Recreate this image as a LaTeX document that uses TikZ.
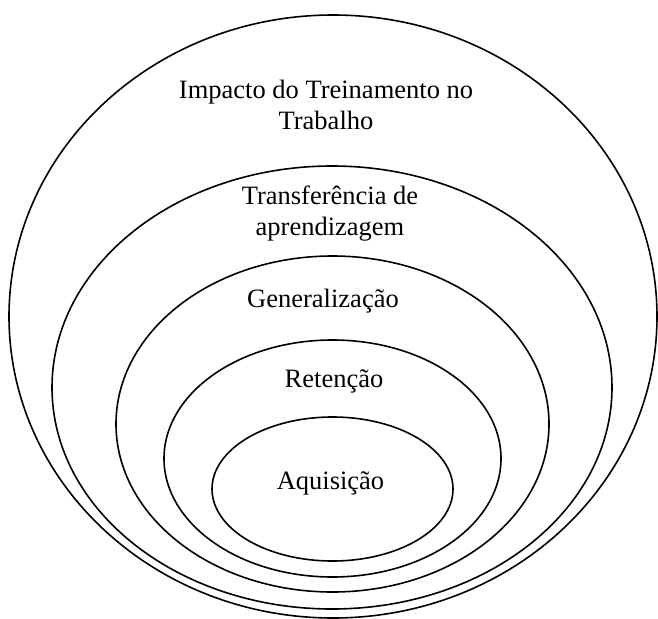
\documentclass[tikz,border=0pt]{standalone}
\usepackage{fontspec}
\setmainfont{Liberation Serif}
\usetikzlibrary{shapes.geometric}
\begin{document}
\begin{tikzpicture}[x=1pt,y=-1pt,
  ring/.style={draw=black, line width=1.6pt, ellipse, inner sep=0pt},
  lbl/.style={font=\fontsize{26.5}{31}\selectfont, align=center, inner sep=0pt}]
\useasboundingbox (0,0) rectangle (658,618);
\node[ring, minimum width=648pt, minimum height=603pt] (e1) at (333,316.5) {};
\node[ring, minimum width=560pt, minimum height=443pt] (e2) at (332,387.5) {};
\node[ring, minimum width=433pt, minimum height=336pt] (e3) at (332.5,424) {};
\node[ring, minimum width=337pt, minimum height=237pt] (e4) at (332.5,458.5) {};
\node[ring, minimum width=241pt, minimum height=144pt] (e5) at (332.5,489) {};
\node[lbl] (t1) at (326,104.5) {Impacto do Treinamento no\\Trabalho};
\node[lbl] (t2) at (330,213.7) {Transferência de\\aprendizagem};
\node[lbl, anchor=base] (t3) at (323,307) {Generalização};
\node[lbl, anchor=base] (t4) at (334,387) {Retenção};
\node[lbl, anchor=base] (t5) at (330.5,489) {Aquisição};
\end{tikzpicture}
\end{document}
